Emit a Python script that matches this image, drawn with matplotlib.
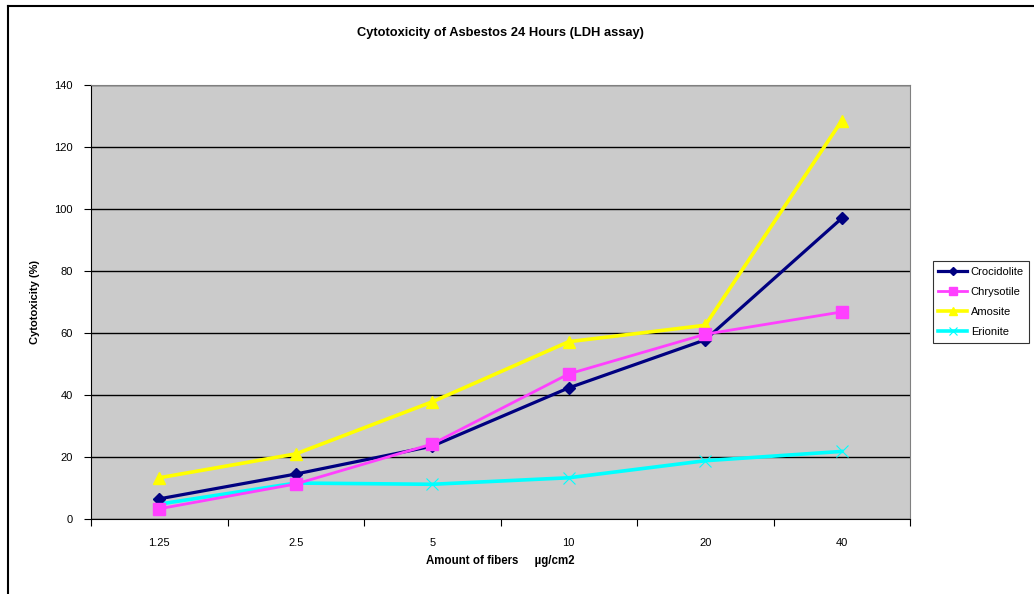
import matplotlib.pyplot as plt
from matplotlib.lines import Line2D

# data
doses = ["1.25", "2.5", "5", "10", "20", "40"]
crocidolite = [6.5, 14.5, 23.5, 42.3, 57.8, 97.0]
chrysotile = [3.3, 11.3, 24.2, 46.8, 59.6, 66.8]
amosite = [13.3, 21.0, 37.8, 57.2, 62.5, 128.5]
erionite = [4.8, 11.6, 11.2, 13.3, 18.8, 21.8]

plt.rcParams['font.family'] = ['Liberation Sans', 'DejaVu Sans']

fig = plt.figure(figsize=(10.34, 5.94), dpi=100)
ax = fig.add_axes([91/1034, 1-519/594, (910-91)/1034, (519-85)/594])
ax.set_facecolor('#cbcbcb')

x = list(range(len(doses)))
ax.plot(x, crocidolite, color='#000080', lw=2.3, marker='D', ms=6, label='Crocidolite', zorder=4)
ax.plot(x, chrysotile, color='#ff40ff', lw=2.0, marker='s', ms=8, label='Chrysotile', zorder=4)
ax.plot(x, amosite, color='#ffff00', lw=2.6, marker='^', ms=9, label='Amosite', zorder=3)
ax.plot(x, erionite, color='#00ffff', lw=2.6, marker='x', ms=9, mew=0.8, label='Erionite', zorder=3)

ax.set_xlim(-0.5, 5.5)
ax.set_ylim(0, 140)
ax.set_yticks(range(0, 141, 20))
ax.yaxis.grid(True, color='black', lw=1)
ax.set_axisbelow(True)

# category labels between boundary ticks
ax.set_xticks([i - 0.5 for i in range(len(doses) + 1)])
ax.set_xticklabels([])
ax.set_xticks(x, minor=True)
ax.set_xticklabels(doses, minor=True)
ax.tick_params(axis='x', which='minor', length=0, pad=14, labelsize=8)
ax.tick_params(axis='x', which='major', length=5, direction='out')
ax.tick_params(axis='y', length=5, direction='out', labelsize=8, pad=8)

for s in ['top', 'right']:
    ax.spines[s].set_color('#808080')
ax.spines['left'].set_color('black')
ax.spines['bottom'].set_color('black')

ax.set_title('Cytotoxicity of Asbestos 24 Hours (LDH assay)', fontsize=9.3, fontweight='bold', pad=35)
ax.set_ylabel('Cytotoxicity (%)', fontsize=8, fontweight='bold', labelpad=10)
ax.set_xlabel('Amount of fibers     \u00b5g/cm2', fontsize=8.3, fontweight='bold', labelpad=5)

leg = ax.legend(loc='center left', bbox_to_anchor=(1.028, 0.5), fontsize=8, frameon=True,
                fancybox=False, edgecolor='black', borderpad=0.5, handlelength=2.6,
                labelspacing=0.9, handletextpad=0.3, borderaxespad=0, markerscale=0.7)
leg.get_frame().set_linewidth(0.8)

# outer chart border
fig.add_artist(Line2D([8/1034, 8/1034], [0, 1-6/594], color='black', lw=1.5))
fig.add_artist(Line2D([8/1034, 1], [1-6/594, 1-6/594], color='black', lw=1.5))

fig.savefig('out.png', dpi=100)
